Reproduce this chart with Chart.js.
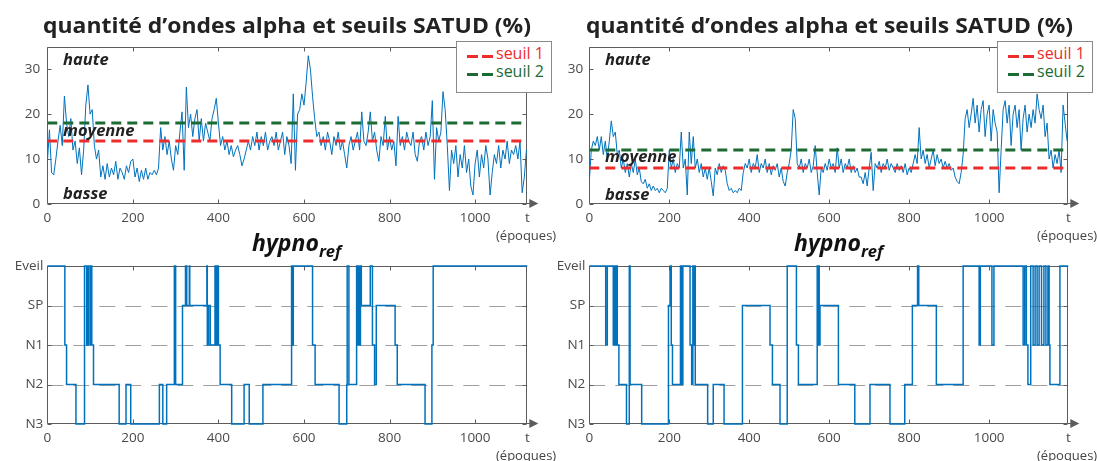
<!DOCTYPE html>
<html><head><meta charset="utf-8">
<script src="https://cdn.jsdelivr.net/npm/chart.js@4.4.0/dist/chart.umd.min.js"></script>
<style>
html,body{margin:0;padding:0;background:#fff;}
#wrap{position:relative;width:1097px;height:461px;overflow:hidden;font-family:"Open Sans",sans-serif;}
canvas{position:absolute;}
.t{position:absolute;white-space:nowrap;line-height:1;}
.title{font-weight:700;font-size:21px;color:#222;transform-origin:0 0;}
.zone{font-weight:700;font-style:italic;font-size:16.5px;color:#222;}
.ep{font-size:13px;color:#444;}
.hyp{font-weight:700;font-style:italic;font-size:23px;color:#111;}
.hyp sub{font-size:16.5px;line-height:1;vertical-align:-6px;}
.legend{position:absolute;border:1px solid #8a8a8a;background:#fff;box-sizing:border-box;}
.dash{position:absolute;height:3px;width:11px;}
.lt{position:absolute;font-size:16px;line-height:1;white-space:nowrap;}
</style></head>
<body><div id="wrap">
<canvas id="cTL" width="550" height="220" style="left:0;top:20px"></canvas>
<canvas id="cTR" width="549" height="220" style="left:548px;top:20px"></canvas>
<canvas id="cBL" width="550" height="211" style="left:0;top:250px"></canvas>
<canvas id="cBR" width="549" height="211" style="left:548px;top:250px"></canvas>

<div class="t title" data-w="488" style="left:43px;top:14.5px">quantité d’ondes alpha et seuils SATUD (%)</div>
<div class="t title" data-w="487" style="left:586px;top:14.5px">quantité d’ondes alpha et seuils SATUD (%)</div>

<div class="t zone" style="left:63px;top:50.5px">haute</div>
<div class="t zone" style="left:63px;top:122px">moyenne</div>
<div class="t zone" style="left:63px;top:185px">basse</div>
<div class="t zone" style="left:605px;top:50.5px">haute</div>
<div class="t zone" style="left:605px;top:148px">moyenne</div>
<div class="t zone" style="left:605px;top:185.5px">basse</div>

<div class="legend" style="left:456px;top:41px;width:96px;height:52px">
  <span class="dash" style="left:10px;top:13px;background:#ee2c2c"></span>
  <span class="dash" style="left:25px;top:13px;background:#ee2c2c"></span>
  <span class="lt" style="left:39px;top:3px;color:#ee2c2c">seuil 1</span>
  <span class="dash" style="left:10px;top:31px;background:#1c6b35"></span>
  <span class="dash" style="left:25px;top:31px;background:#1c6b35"></span>
  <span class="lt" style="left:39px;top:21px;color:#1c6b35">seuil 2</span>
</div>
<div class="legend" style="left:997px;top:41px;width:96px;height:52px">
  <span class="dash" style="left:10px;top:13px;background:#ee2c2c"></span>
  <span class="dash" style="left:25px;top:13px;background:#ee2c2c"></span>
  <span class="lt" style="left:39px;top:3px;color:#ee2c2c">seuil 1</span>
  <span class="dash" style="left:10px;top:31px;background:#1c6b35"></span>
  <span class="dash" style="left:25px;top:31px;background:#1c6b35"></span>
  <span class="lt" style="left:39px;top:21px;color:#1c6b35">seuil 2</span>
</div>

<div class="t ep" style="left:496px;top:229px">(époques)</div>
<div class="t ep" style="left:1037px;top:229px">(époques)</div>
<div class="t ep" style="left:496px;top:449px">(époques)</div>
<div class="t ep" style="left:1037px;top:449px">(époques)</div>

<div class="t hyp" style="left:252px;top:230.5px">hypno<sub>ref</sub></div>
<div class="t hyp" style="left:794px;top:230.5px">hypno<sub>ref</sub></div>
</div>
<script>
// ---------------- data ----------------
const STAGES = ['N3', 'N2', 'N1', 'SP', 'Eveil'];
const xTicks = [0, 200, 400, 600, 800, 1000];
const alphaTicks = [0, 10, 20, 30];
const epochStep = 5;           // one value every 5 epochs
const xMaxL = 1122, xMaxR = 1198;
const seuilsL = [14, 18];      // seuil 1, seuil 2 (left)
const seuilsR = [8, 12];       // seuil 1, seuil 2 (right)

const alphaL = [
  9, 16.5, 7, 6.5, 10, 14, 17.5, 13, 24, 18, 15, 19, 12, 14, 9, 12.5, 6.5, 12, 22, 26.5,
  20, 21, 13, 10, 12, 6, 8.5, 5.5, 9, 6, 8, 6.5, 9.5, 5.5, 8, 7, 5.5, 8.5, 7, 9.5,
  10, 6, 8, 5, 7.5, 5.5, 8, 5.5, 7, 6.5, 7.5, 6.5, 8, 17, 12, 15, 11, 14, 10, 7.5,
  13, 11, 16, 20.5, 7.5, 26, 17, 20, 15, 19, 21, 14, 19, 14, 18, 16, 14, 19, 21, 23.5,
  18, 13, 15, 12, 14, 11, 13, 10.5, 12, 13, 11, 8.5, 10, 12, 14, 12, 15, 13, 16, 12,
  15, 13, 16, 12, 14, 15, 13, 16, 12, 14, 16, 11, 15, 13, 9, 24.5, 7.5, 20, 21, 24.5,
  22, 27, 33, 30, 24, 19, 15, 16, 13, 15, 12, 16, 14, 11, 15, 13, 16, 12, 14, 11,
  8, 13, 15, 12, 14, 16, 12, 20.5, 14, 13, 16, 20.5, 14, 16, 12, 9.5, 15, 13, 19.5, 12,
  15, 12, 14, 8.5, 19.5, 13, 15, 12, 16, 14, 13, 16, 11, 9.5, 14, 15, 12, 16, 13, 15,
  23, 5.5, 17, 14, 16, 25, 21, 13, 3, 12, 9, 13, 6, 11, 8, 13, 7, 10, 4, 2,
  9, 12, 6, 11, 8, 13, 10, 2, 7, 11, 9, 13, 8, 12, 10, 14, 9, 12, 11, 13,
  10, 14, 2.5, 6, 12
];
const alphaR = [
  5, 12, 14, 13, 15, 12, 15, 11, 14, 10, 14, 18.5, 15, 16, 11, 12, 8, 10, 7, 9,
  6, 9, 7, 10, 6.5, 8, 5, 4.5, 5.5, 3.5, 4.5, 3, 4, 3, 3.5, 2.5, 3.5, 3, 2.5, 3.5,
  12, 8, 10, 7, 9, 8, 16, 8, 10, 2, 16, 9, 15, 8, 10, 7, 9, 6, 8, 5.5,
  8, 5, 1.8, 8, 6.5, 9, 7, 8.5, 7.5, 4.5, 3, 3.5, 2.5, 3, 2.5, 3.5, 3, 7, 9, 8,
  10, 7, 9, 8, 11, 7, 9, 8, 10, 7, 9, 6.5, 8.5, 7.5, 9, 6, 8, 5, 4, 7,
  9, 12, 21, 19, 9, 8, 10, 7, 9, 8, 10, 7, 8.5, 13, 7, 2, 8, 7, 9, 7.5,
  10, 8, 9, 7, 12.5, 8, 10, 7, 9, 8, 10, 7, 8.5, 7, 8, 6, 6, 4.5, 7, 4,
  8, 11.5, 3, 9, 8, 9.5, 7, 9, 8, 10, 7.5, 9, 8, 7, 9, 7.5, 8.5, 7, 9, 6.5,
  8, 7, 9, 11, 9, 17, 10, 12, 9, 11, 8, 10, 12, 8.5, 11, 9, 10, 8, 9.5, 8,
  9, 7.5, 8, 6, 5, 4.5, 7, 11, 19, 21, 17, 20, 23.5, 18, 22, 16, 21, 23, 15, 20,
  22, 14, 21, 18, 16, 2.5, 12, 21, 23, 18, 22, 13, 20, 22, 17, 21, 12, 19, 22, 16,
  20, 17, 21, 18, 24.5, 21, 19, 22, 15, 18, 10, 12, 8, 11, 9, 12, 7, 22, 18, 14
];

// hypnogram change points: epoch where the stage begins, stage index in STAGES
const hypL_t = [0, 41, 45, 67, 87, 92, 94, 95, 97, 101, 103, 104, 108,
  168, 184, 195, 262, 270, 279, 297, 300, 316, 323, 326, 332, 333,
  373, 374, 377, 381, 392, 394, 395, 397, 398, 400, 404,
  431, 460, 472, 504, 571, 572, 573, 574, 575, 620, 626, 682, 700, 701, 705,
  723, 726, 728, 731, 732, 734, 755, 760, 765, 769, 813, 818, 883, 899, 902, 1122];
const hypL_s = [4, 2, 1, 0, 4, 2, 4, 2, 4, 2, 4, 2, 1,
  0, 1, 0, 1, 0, 1, 4, 1, 3, 4, 3, 4, 3,
  4, 2, 3, 2, 4, 2, 4, 2, 4, 2, 1,
  0, 1, 0, 1, 4, 2, 4, 2, 4, 2, 1, 0, 1, 4, 1,
  4, 2, 4, 2, 4, 3, 4, 2, 1, 3, 2, 1, 0, 2, 4, 4];

const hypR_t = [0, 41, 45, 60, 63, 66, 68, 70, 74, 93, 100, 102, 131, 198, 202, 205, 208,
  228, 231, 234, 252, 256, 259, 261, 263, 265, 296, 310, 337, 383, 452, 458, 477, 495,
  518, 523, 570, 572, 574, 575, 577, 623, 664, 702, 752, 789, 808, 821, 824, 868, 935,
  975, 978, 1007, 1012, 1085, 1089, 1093, 1097, 1104, 1110, 1115, 1120, 1125, 1131,
  1137, 1142, 1147, 1150, 1152, 1177, 1198];
const hypR_s = [4, 2, 4, 2, 4, 2, 4, 2, 1, 0, 4, 1, 0, 3, 4, 2, 1,
  4, 1, 4, 2, 1, 4, 2, 4, 1, 0, 1, 0, 3, 2, 1, 0, 4,
  2, 1, 4, 2, 4, 2, 3, 1, 0, 1, 0, 1, 3, 4, 3, 1, 4,
  2, 4, 2, 4, 2, 4, 2, 1, 4, 2, 4, 2, 4, 2,
  4, 2, 4, 2, 1, 4, 4];

// ---------------- drawing ----------------
const BLUE = '#0072bd', RED = '#ee2c2c', GREEN = '#1c6b35', AX = '#5c5c5c';
const TICKFONT = {family: '"Open Sans", sans-serif', size: 13.5};

const framePlugin = {
  id: 'frame',
  beforeDatasetsDraw(chart, args, o) {
    const {ctx, chartArea: a, scales: {x, y}} = chart;
    ctx.save();
    if (o.hypno) {
      ctx.strokeStyle = '#a0a0a0';
      ctx.lineWidth = 1;
      ctx.setLineDash([16, 10]);
      [1, 2, 3].forEach(v => {
        const py = Math.round(y.getPixelForValue(v)) + 0.5;
        ctx.beginPath(); ctx.moveTo(a.left, py); ctx.lineTo(a.right, py); ctx.stroke();
      });
      ctx.setLineDash([]);
    }
    ctx.strokeStyle = AX; ctx.lineWidth = 1;
    const L = Math.round(a.left) + 0.5, R = Math.round(a.right) - 0.5, T = Math.round(a.top) + 0.5, B = Math.round(a.bottom) - 0.5;
    ctx.beginPath();
    ctx.moveTo(L, B); ctx.lineTo(L, T); ctx.lineTo(R, T); ctx.lineTo(R, B);
    ctx.stroke();
    o.xTicks.forEach(v => {
      const px = Math.round(x.getPixelForValue(v)) + 0.5;
      ctx.beginPath(); ctx.moveTo(px, T); ctx.lineTo(px, T + 4); ctx.moveTo(px, B); ctx.lineTo(px, B - 4); ctx.stroke();
    });
    o.yTicks.forEach(v => {
      const py = Math.round(y.getPixelForValue(v)) + 0.5;
      ctx.beginPath(); ctx.moveTo(L, py); ctx.lineTo(L + 4, py); ctx.moveTo(R, py); ctx.lineTo(R - 4, py); ctx.stroke();
    });
    // bottom axis with arrow
    ctx.beginPath(); ctx.moveTo(L, B); ctx.lineTo(a.right + 6, B); ctx.stroke();
    ctx.fillStyle = AX;
    ctx.beginPath();
    ctx.moveTo(a.right + 2, B - 4.5); ctx.lineTo(a.right + 11, B); ctx.lineTo(a.right + 2, B + 4.5);
    ctx.closePath(); ctx.fill();
    ctx.restore();
  }
};

function makeChart(id, o) {
  const xMax = o.xMax;
  return new Chart(document.getElementById(id), {
    type: 'line',
    data: {datasets: o.datasets},
    plugins: [framePlugin],
    options: {
      responsive: false, animation: false, devicePixelRatio: 1,
      layout: {padding: {left: 0, right: o.padR, top: o.padT, bottom: 0}},
      plugins: {legend: {display: false}, tooltip: {enabled: false},
        frame: {xTicks: xTicks, yTicks: o.yTicks, hypno: o.hypno}},
      elements: {point: {radius: 0}, line: {tension: 0}},
      scales: {
        x: {type: 'linear', min: 0, max: xMax,
          afterBuildTicks: s => { s.ticks = xTicks.map(v => ({value: v})).concat([{value: xMax}]); },
          afterFit: s => { s.height = o.xH; },
          grid: {display: false, drawTicks: false}, border: {display: false},
          ticks: {autoSkip: false, maxRotation: 0, padding: o.xPad, color: '#4a4a4a', font: TICKFONT,
            callback: v => v === xMax ? 't' : String(v)}},
        y: {type: 'linear', min: o.yMin, max: o.yMax,
          afterBuildTicks: s => { s.ticks = o.yTicks.map(v => ({value: v})); },
          afterFit: s => { s.width = o.yW; },
          grid: {display: false, drawTicks: false}, border: {display: false},
          ticks: {autoSkip: false, padding: o.yPad, color: '#4a4a4a', font: TICKFONT,
            callback: o.yLabel}}
      }
    }
  });
}

function alphaSets(vals, seuils, xMax) {
  return [
    {data: [{x: 0, y: seuils[0]}, {x: xMax, y: seuils[0]}], borderColor: RED, borderWidth: 3, borderDash: [10, 6], order: 0},
    {data: [{x: 0, y: seuils[1]}, {x: xMax, y: seuils[1]}], borderColor: GREEN, borderWidth: 3, borderDash: [10, 6], order: 0},
    {data: vals.map((v, i) => ({x: i * epochStep, y: v})), borderColor: BLUE, borderWidth: 1, order: 1}
  ];
}
function hypSets(t, s) {
  return [{data: t.map((e, i) => ({x: e, y: s[i]})), borderColor: BLUE, borderWidth: 1.5, stepped: true, clip: 4}];
}

makeChart('cTL', {datasets: alphaSets(alphaL, seuilsL, xMaxL), xMax: xMaxL, padR: 550 - 527.3, padT: 26.7,
  xH: 36, yW: 47.3, xPad: 6, yPad: 7, yMin: 0, yMax: 35, yTicks: alphaTicks, yLabel: v => String(v)});
makeChart('cTR', {datasets: alphaSets(alphaR, seuilsR, xMaxR), xMax: xMaxR, padR: 549 - 1068.3 + 548, padT: 26.7,
  xH: 36, yW: 41.3, xPad: 6, yPad: 6, yMin: 0, yMax: 35, yTicks: alphaTicks, yLabel: v => String(v)});
makeChart('cBL', {datasets: hypSets(hypL_t, hypL_s), xMax: xMaxL, padR: 550 - 527.3, padT: 16,
  xH: 37, yW: 47.3, xPad: 6, yPad: 4, yMin: 0, yMax: 4, yTicks: [0, 1, 2, 3, 4], yLabel: v => STAGES[v], hypno: true});
makeChart('cBR', {datasets: hypSets(hypR_t, hypR_s), xMax: xMaxR, padR: 549 - 1068.3 + 548, padT: 16,
  xH: 37, yW: 41.3, xPad: 6, yPad: 4, yMin: 0, yMax: 4, yTicks: [0, 1, 2, 3, 4], yLabel: v => STAGES[v], hypno: true});

// fit titles to the reference width
document.querySelectorAll('[data-w]').forEach(el => {
  const w = el.getBoundingClientRect().width;
  el.style.transform = 'scaleX(' + (parseFloat(el.dataset.w) / w) + ')';
});
</script>
</body></html>
